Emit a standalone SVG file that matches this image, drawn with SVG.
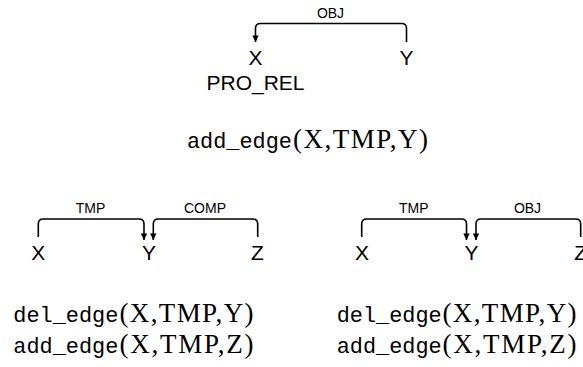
<svg xmlns="http://www.w3.org/2000/svg" width="583" height="367" viewBox="0 0 583 367">
<defs>
<style>
.node{font-family:"Liberation Sans",Arial,sans-serif;font-size:21px;fill:#000;text-anchor:middle}
.lbl{font-family:"Liberation Sans",Arial,sans-serif;font-size:14px;fill:#000;text-anchor:middle}
.edge{fill:none;stroke:#000;stroke-width:1.6}
.tt{font-family:"Liberation Mono","Courier New",monospace;font-size:22px;fill:#000}
.rm{font-family:"Liberation Serif","Times New Roman",serif;font-size:27px;fill:#000}
</style>
<marker id="arr" markerUnits="userSpaceOnUse" markerWidth="8" markerHeight="8" viewBox="0 0 8 8" refX="4" refY="7" orient="0">
<path d="M0.8,0.5 L7.2,0.5 L4,7 Z" fill="#000"/>
</marker>
</defs>
<rect width="583" height="367" fill="#fff"/>
<g id="connectors">
<path class="edge" marker-end="url(#arr)" d="M406.5,42 V28.5 Q406.5,23.5 401.5,23.5 H260.5 Q255.5,23.5 255.5,28.5 V42"/>
<path class="edge" marker-end="url(#arr)" d="M38.3,237 V224 Q38.3,219 43.3,219 H139 Q144,219 144,224 V240"/>
<path class="edge" marker-end="url(#arr)" d="M257.7,237 V224 Q257.7,219 252.7,219 H158.3 Q153.3,219 153.3,224 V240"/>
<path class="edge" marker-end="url(#arr)" d="M361.7,237 V224 Q361.7,219 366.7,219 H461.5 Q466.5,219 466.5,224 V240"/>
<path class="edge" marker-end="url(#arr)" d="M580.7,237 V224 Q580.7,219 575.7,219 H481 Q476,219 476,224 V240"/>
<text class="lbl" x="330.5" y="17.5">OBJ</text>
<text class="lbl" x="90.5" y="213.3">TMP</text>
<text class="lbl" x="205" y="213.3">COMP</text>
<text class="lbl" x="413.8" y="213.3">TMP</text>
<text class="lbl" x="527.5" y="213.3">OBJ</text>
</g>
<g id="top-X"><text class="node" x="255.5" y="64.5">X</text><text class="node" x="255.5" y="89.5" font-size="21.5">PRO_REL</text></g>
<g id="top-Y"><text class="node" x="406.5" y="64.5">Y</text></g>
<g id="op-top">
<text class="tt" x="187" y="148.3" textLength="105" lengthAdjust="spacingAndGlyphs">add_edge</text>
<text class="rm" x="293" y="148.3" textLength="135" lengthAdjust="spacing">(X,TMP,Y)</text>
</g>
<g id="left-X"><text class="node" x="38.3" y="260">X</text></g>
<g id="left-Y"><text class="node" x="149" y="260">Y</text></g>
<g id="left-Z"><text class="node" x="257.5" y="260">Z</text></g>
<g id="right-X"><text class="node" x="362" y="260">X</text></g>
<g id="right-Y"><text class="node" x="471.5" y="260">Y</text></g>
<g id="right-Z"><text class="node" x="580.7" y="260">Z</text></g>
<g id="op-left">
<text class="tt" x="13.3" y="321.7" textLength="105" lengthAdjust="spacingAndGlyphs">del_edge</text>
<text class="rm" x="119.5" y="321.7" textLength="134" lengthAdjust="spacing">(X,TMP,Y)</text>
<text class="tt" x="13.3" y="353.3" textLength="105" lengthAdjust="spacingAndGlyphs">add_edge</text>
<text class="rm" x="119.5" y="353.3" textLength="134" lengthAdjust="spacing">(X,TMP,Z)</text>
</g>
<g id="op-right">
<text class="tt" x="336.7" y="321.7" textLength="105" lengthAdjust="spacingAndGlyphs">del_edge</text>
<text class="rm" x="442.5" y="321.7" textLength="134" lengthAdjust="spacing">(X,TMP,Y)</text>
<text class="tt" x="336.7" y="353.3" textLength="105" lengthAdjust="spacingAndGlyphs">add_edge</text>
<text class="rm" x="442.5" y="353.3" textLength="134" lengthAdjust="spacing">(X,TMP,Z)</text>
</g>
</svg>
